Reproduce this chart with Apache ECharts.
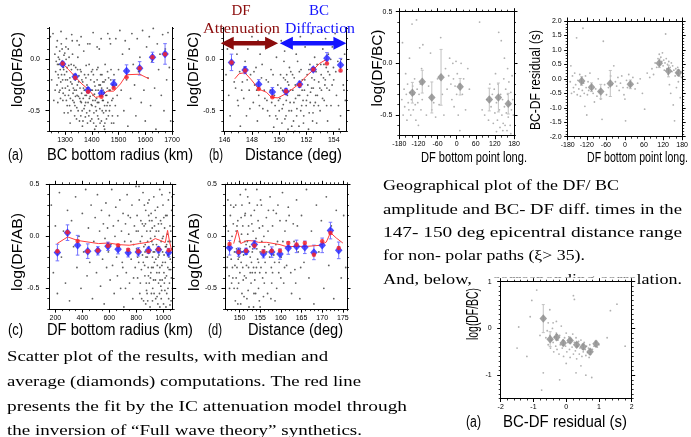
<!DOCTYPE html>
<html><head><meta charset="utf-8">
<script src="https://cdn.jsdelivr.net/npm/echarts@6/dist/echarts.min.js"></script>
<style>html,body{margin:0;padding:0;background:#fff}#c{width:691px;height:437px}</style>
</head><body><div id="c"></div><script>
// ---------------- DATA ----------------
// Panel (a): log(DF/BC) vs BC bottom radius (km)
const aCloud = [[1262,0.05],[1265,-0.12],[1268,0.12],[1270,-0.25],[1272,-0.05],[1275,0.02],[1276,-0.18],[1278,-0.32],[1280,0.08],[1282,-0.1],[1284,-0.22],[1286,0.15],[1288,-0.02],[1290,-0.28],[1292,-0.4],[1294,-0.08],[1296,0.04],[1298,-0.15],[1300,-0.35],[1302,-0.2],[1304,0.0],[1306,-0.12],[1308,-0.45],[1310,-0.26],[1312,0.1],[1314,-0.06],[1316,-0.3],[1318,-0.18],[1320,-0.38],[1322,-0.5],[1324,-0.1],[1326,-0.24],[1328,0.05],[1330,-0.33],[1332,-0.15],[1334,-0.42],[1336,-0.55],[1338,-0.2],[1340,-0.08],[1342,-0.3],[1344,-0.47],[1346,-0.25],[1348,0.02],[1350,-0.36],[1352,-0.16],[1354,-0.6],[1356,-0.28],[1358,-0.41],[1360,-0.12],[1362,-0.33],[1364,-0.5],[1366,-0.22],[1368,-0.38],[1370,0.08],[1372,-0.3],[1374,-0.45],[1376,-0.56],[1378,-0.18],[1380,-0.35],[1382,-0.25],[1384,-0.62],[1386,-0.42],[1388,-0.3],[1390,-0.05],[1392,-0.5],[1394,-0.36],[1396,-0.2],[1398,-0.44],[1400,-0.58],[1402,-0.3],[1404,-0.4],[1406,-0.15],[1408,-0.52],[1410,-0.34],[1412,-0.26],[1414,-0.46],[1416,-0.65],[1418,-0.38],[1420,-0.2],[1422,-0.55],[1424,-0.3],[1426,-0.42],[1428,0.1],[1430,-0.48],[1432,-0.25],[1434,-0.36],[1436,-0.6],[1438,-0.15],[1440,-0.4],[1442,-0.3],[1444,-0.52],[1446,-0.22],[1448,-0.45],[1450,-0.05],[1452,-0.35],[1455,-0.58],[1458,-0.28],[1460,-0.42],[1463,-0.18],[1466,-0.5],[1469,-0.3],[1472,-0.1],[1475,-0.4],[1478,-0.25],[1482,-0.62],[1485,-0.2],[1490,0.2],[1495,-0.35],
[1245,0.22],[1250,-0.2],[1255,0.25],[1258,-0.4],[1285,0.27],[1305,0.2],[1325,0.24],[1345,0.18],[1360,0.22],[1385,0.15],[1405,0.26],[1420,0.12],[1435,0.2],[1448,-0.68],[1460,0.25],[1470,0.15],[1500,-0.1],[1505,0.28],[1510,-0.3],[1515,0.05],[1520,-0.5],[1525,0.18],[1530,-0.2],[1535,-0.65],[1540,0.1],[1545,-0.38],[1550,0.25],[1555,-0.05],[1560,-0.25],[1565,-0.55],[1570,0.2],[1575,-0.12],[1580,0.02],[1585,-0.42],[1590,0.28],[1595,-0.3],[1600,-0.6],[1605,0.12],[1610,-0.18],[1615,0.22],[1620,-0.45],[1625,-0.02],[1630,0.3],[1635,-0.28],[1640,-0.68],[1645,0.15],[1650,-0.1],[1655,0.05],[1660,-0.35],[1665,0.24],[1670,-0.5],[1675,0.1],[1680,-0.2],[1685,0.26],[1690,-0.08],[1695,-0.6],
[1273,-0.42],[1281,-0.3],[1297,-0.52],[1303,0.12],[1319,-0.62],[1327,0.18],[1339,-0.36],[1347,-0.1],[1353,0.14],[1367,-0.6],[1379,-0.06],[1393,0.15],[1403,-0.1],[1411,-0.68],[1423,-0.08],[1437,-0.28],[1449,-0.62],[1457,-0.45],[1467,0.2],[1477,-0.55],
[1263,-0.3],[1267,-0.02],[1271,0.18],[1274,-0.15],[1277,-0.05],[1279,0.0],[1283,-0.38],[1287,-0.15],[1289,0.1],[1291,-0.2],[1293,-0.33],[1295,-0.1],[1299,0.06],[1301,-0.28],[1305,-0.4],[1307,-0.08],[1309,-0.2],[1311,-0.52],[1313,-0.35],[1315,0.02],[1317,-0.45],[1321,-0.22],[1323,-0.05],[1329,-0.4],[1331,-0.28],[1333,-0.06],[1335,-0.3],[1337,-0.45],[1341,-0.15],[1343,-0.58],[1345,-0.35],[1349,-0.5],[1351,-0.22],[1355,-0.38],[1357,-0.1],[1359,-0.55],[1361,-0.42],[1363,-0.2],[1365,-0.65],[1369,-0.28],[1371,-0.48],[1373,-0.15],[1375,-0.35],[1377,-0.42],[1381,-0.52],[1383,-0.32],[1387,-0.15],[1389,-0.55],[1391,-0.38],[1395,-0.6],[1397,-0.3],[1399,-0.12],[1401,-0.45],[1405,-0.35],[1407,-0.62],[1409,-0.22],[1413,-0.4],[1415,-0.3],[1417,-0.5],[1419,-0.1],[1421,-0.42],[1425,-0.58],[1427,-0.25],[1429,-0.35],[1431,-0.62],[1433,-0.15],[1439,-0.5],[1441,-0.22],[1443,-0.4],[1445,-0.65],[1447,-0.32],[1451,-0.2],[1453,-0.5],[1456,-0.35],[1459,-0.12],[1462,-0.55],[1465,-0.3],[1468,-0.45],[1471,-0.2],[1474,-0.62],[1479,-0.38],[1483,-0.15],[1488,-0.45],[1492,-0.25],[1497,-0.55]];
const aBinX = [1291,1338,1386,1436,1482,1530,1579,1627,1674];
const aMean = [-0.045,-0.169,-0.299,-0.331,-0.240,-0.114,-0.088,0.019,0.052];
const aErr = [0.02,0.025,0.025,0.03,0.04,0.06,0.065,0.05,0.1];
const aMedian = [-0.04,-0.18,-0.315,-0.364,-0.28,-0.175,-0.088,0.02,0.05];
const aFitX = [1291,1313,1338,1363,1386,1413,1436,1457,1482,1507,1530,1579,1614];
const aFitY = [-0.04,-0.1,-0.17,-0.24,-0.29,-0.37,-0.36,-0.31,-0.31,-0.24,-0.15,-0.145,-0.19];

// Panel (b): log(DF/BC) vs distance (deg)
const bCloud = [[146.1,-0.15],[146.2,0.1],[146.3,-0.35],[146.5,0.2],[146.6,-0.05],[146.8,-0.28],[146.9,0.05],[147.0,-0.45],[147.1,-0.12],[147.2,0.15],[147.3,-0.22],[147.4,-0.38],[147.5,-0.02],[147.6,-0.55],[147.7,0.1],[147.8,-0.3],[147.9,-0.15],[148.0,0.22],[148.1,-0.42],[148.2,-0.25],[148.3,-0.08],[148.4,-0.6],[148.5,-0.35],[148.6,0.05],[148.7,-0.18],[148.8,-0.48],[148.9,-0.3],[149.0,0.12],[149.1,-0.4],[149.2,-0.22],[149.3,-0.55],[149.4,-0.1],[149.5,-0.32],[149.6,-0.66],[149.7,-0.45],[149.8,0.02],[149.9,-0.25],[150.0,-0.5],[150.05,-0.38],[150.1,-0.15],[150.2,-0.62],[150.25,-0.3],[150.3,-0.44],[150.4,0.08],[150.45,-0.2],[150.5,-0.55],[150.6,-0.35],[150.65,-0.68],[150.7,-0.25],[150.8,-0.42],[150.85,-0.12],[150.9,-0.5],[151.0,-0.3],[151.05,-0.6],[151.1,-0.18],[151.2,-0.38],[151.25,0.05],[151.3,-0.48],[151.4,-0.25],[151.45,-0.65],[151.5,-0.35],[151.6,-0.1],[151.65,-0.45],[151.7,-0.2],[151.8,-0.55],[151.85,-0.3],[151.9,0.12],[152.0,-0.4],[152.05,-0.15],[152.1,-0.25],[152.2,-0.52],[152.25,-0.05],[152.3,-0.32],[152.4,-0.18],[152.45,-0.6],[152.5,-0.28],[152.6,0.02],[152.65,-0.42],[152.7,-0.12],[152.8,-0.35],[152.85,0.15],[152.9,-0.22],[153.0,-0.5],[153.05,-0.05],[153.1,-0.3],[153.2,0.1],[153.25,-0.18],[153.3,-0.4],[153.4,0.2],[153.45,-0.08],[153.5,-0.28],[153.6,0.05],[153.7,-0.15],[153.8,-0.45],[153.9,0.12],[154.0,-0.2],[154.1,0.25],[154.2,-0.35],[154.3,-0.02],[154.5,-0.55],[154.6,0.15],[154.7,-0.25],[154.8,0.05],
[149.25,0.25],[150.15,0.18],[150.75,-0.08],[151.15,-0.7],[151.55,0.22],[152.15,-0.68],[152.35,0.25],[152.75,-0.62],[153.15,0.28],[153.55,-0.6],[150.35,-0.02],[151.35,-0.02],[149.85,-0.58],[150.55,-0.15],[151.75,-0.4],[152.55,-0.45],[153.35,-0.25],[148.45,0.18],[147.15,-0.65],[146.4,-0.55],[154.4,-0.68],[154.85,-0.4],
[149.05,-0.2],[149.15,-0.5],[149.35,-0.3],[149.45,-0.42],[149.55,-0.15],[149.65,-0.35],[149.75,-0.55],[149.95,-0.4],[150.12,-0.28],[150.22,-0.48],[150.32,-0.18],[150.42,-0.58],[150.52,-0.4],[150.62,-0.22],[150.72,-0.5],[150.82,-0.3],[150.92,-0.65],[150.98,-0.15],[151.08,-0.42],[151.18,-0.25],[151.28,-0.55],[151.38,-0.35],[151.48,-0.12],[151.58,-0.5],[151.68,-0.3],[151.78,-0.62],[151.88,-0.2],[151.98,-0.45],[152.08,-0.35],[152.18,-0.1],[152.28,-0.42],[152.38,-0.28],[152.48,-0.52],[152.58,-0.2],[152.68,-0.35],[152.78,-0.05],[152.88,-0.45],[152.98,-0.28],[153.08,-0.15],[153.18,-0.38],[153.28,-0.05],[153.38,-0.2],[153.48,-0.45],[153.58,-0.12],[153.68,-0.3],[153.78,0.0],[153.88,-0.25],[153.98,-0.08],[148.15,-0.12],[148.35,-0.3],[148.55,-0.45],[148.75,-0.05],[148.95,-0.38],[147.25,-0.3],[147.45,-0.08],[147.65,-0.2],[147.85,-0.48],[146.7,-0.22],[146.95,-0.4],[154.15,-0.12],[154.35,-0.45],[154.55,0.0],[154.75,-0.3]];
const bBinX = [146.5,147.5,148.5,149.5,150.5,151.5,152.5,153.5,154.5];
const bMean = [-0.03,-0.105,-0.243,-0.319,-0.313,-0.243,-0.099,0.01,-0.056];
const bErr = [0.08,0.035,0.045,0.045,0.03,0.03,0.02,0.055,0.065];
const bMedian = [-0.03,-0.11,-0.29,-0.37,-0.31,-0.25,-0.1,-0.04,-0.11];
const bFitX = [146.74,147.06,147.48,147.96,148.5,149.06,149.43,149.91,150.48,150.96,151.45,151.99,152.48,152.96,153.48];
const bFitY = [-0.19,-0.14,-0.13,-0.2,-0.29,-0.32,-0.37,-0.375,-0.335,-0.29,-0.24,-0.165,-0.105,-0.04,0];
const bArrowAtt = [145.71,149.92];   // DF attenuation range (deg)
const bArrowDif = [150.05,154.93];   // BC diffraction range (deg)
const bArrowY = 0.156;

// Panel (c): log(DF/AB) vs DF bottom radius (km)
const cCloud = [[170,0.3],[185,-0.35],[200,0.1],[215,-0.55],[230,0.42],[245,-0.2],[260,0.05],[275,-0.45],[290,0.25],[305,-0.62],[320,0.15],[335,-0.1],[350,0.38],[360,-0.3],[375,0.0],[390,-0.5],[400,0.22],[410,-0.15],[425,0.45],[435,-0.38],[445,0.08],[455,-0.25],[465,0.3],[475,-0.6],[485,-0.05],[495,0.18],
[505,-0.35],[512,0.4],[520,-0.12],[528,0.05],[535,-0.48],[542,0.25],[550,-0.22],[556,0.12],[562,-0.65],[568,-0.02],[575,0.32],[580,-0.3],[587,0.08],[593,-0.15],[600,0.2],[606,-0.42],[612,-0.08],[618,0.45],[624,-0.28],[630,0.1],[636,-0.55],[642,0.0],[648,0.28],[654,-0.2],[660,-0.38],[666,0.15],[672,-0.1],[678,0.35],[684,-0.5],[690,0.05],[696,-0.25],[702,0.22],[708,-0.68],[714,-0.05],[720,0.12],[726,-0.35],[732,0.4],[738,-0.15],[744,0.02],[750,-0.45],[756,0.18],[762,-0.22],[768,0.3],[774,-0.6],[780,-0.08],[786,0.1],[792,-0.3],[798,0.48],
[802,-0.12],[806,0.2],[810,-0.4],[814,0.05],[818,-0.25],[822,0.35],[826,-0.55],[830,-0.05],[834,0.15],[838,-0.32],[842,0.0],[846,-0.18],[850,0.42],[854,-0.62],[858,0.1],[862,-0.28],[866,-0.08],[870,0.25],[874,-0.45],[878,0.05],[882,-0.2],[886,0.32],[890,-0.38],[894,-0.1],[898,0.15],[902,-0.68],[906,-0.02],[910,0.22],[914,-0.3],[918,0.08],[922,-0.5],[926,-0.15],[930,0.38],[934,-0.25],[938,0.0],[942,-0.42],[946,0.18],[950,-0.08],[954,-0.58],[958,0.28],[962,-0.2],[966,0.05],[970,-0.35],[974,0.45],[978,-0.12],[982,-0.48],[986,0.12],[990,-0.28],[994,-0.02],[998,0.3],[1002,-0.65],[1006,-0.18],[1010,0.08],[1014,-0.4],[1018,0.2],[1022,-0.1],[1026,-0.55],[1030,0.02],[1034,-0.3],[1038,0.35],[1042,-0.2],[1046,-0.45],[1050,0.1],[1054,-0.05],[1058,-0.62],[1062,0.25],[1066,-0.25],
[905,-0.4],[915,-0.05],[925,-0.3],[935,0.1],[945,-0.22],[955,-0.12],[965,-0.45],[975,-0.3],[985,-0.6],[995,-0.15],[1005,-0.35],[1015,-0.25],[1025,-0.08],[1035,-0.5],[1045,-0.15],[1055,-0.32],[1012,-0.52],[992,-0.42],[972,-0.55],[952,-0.35],[932,-0.55],[1040,-0.6],[1020,-0.68],[1000,0.0],[980,0.15],[960,-0.65],[940,0.25],[920,-0.62],[880,-0.55],[860,0.3],[840,-0.6],[820,0.48],[870,-0.65],[1048,0.42],[1028,0.2],
[852,-0.25],[856,-0.1],[864,-0.38],[868,0.12],[872,-0.2],[876,-0.52],[884,-0.05],[888,-0.3],[892,0.2],[896,-0.45],[900,-0.15],[904,0.05],[908,-0.35],[912,-0.55],[916,0.15],[920,-0.2],[924,-0.08],[928,-0.42],[936,-0.15],[944,-0.6],[948,0.05],[956,-0.28],[964,0.12],[968,-0.18],[976,-0.42],[984,-0.05],[988,-0.52],[996,-0.25],[1004,0.18],[1008,-0.45],[1016,-0.1],[1024,-0.38],[1032,-0.18],[1036,-0.05],[1044,-0.32],[1052,-0.22],[1056,0.05],[1060,-0.4],[1064,-0.12],[1068,-0.5],[700,-0.3],[720,-0.5],[740,0.2],[760,-0.05],[780,-0.4],[800,0.05],[810,-0.2],[830,-0.45],[845,0.12],[865,-0.15],[885,-0.62],[895,0.35],[975,-0.68],[1065,0.38],[1050,-0.66],[990,0.4]];
const cBinX = [215,290,365,440,515,590,665,740,815,890,965,1040];
const cMean = [-0.156,0.035,-0.086,-0.143,-0.14,-0.096,-0.124,-0.159,-0.15,-0.134,-0.13,-0.156];
const cErr = [0.08,0.075,0.095,0.07,0.04,0.04,0.045,0.04,0.04,0.03,0.03,0.04];
const cMedian = [-0.143,0.04,-0.045,-0.143,-0.137,-0.092,-0.086,-0.13,-0.143,-0.143,-0.124,-0.134];
const cFitX = [213,291,365,442,521,595,669,748,822,899,941,978,1015,1032,1047,1064];
const cFitY = [-0.07,-0.006,-0.04,-0.055,-0.07,-0.064,-0.08,-0.086,-0.07,-0.055,-0.022,-0.04,-0.06,0.057,-0.055,-0.143];

// Panel (d): log(DF/AB) vs distance (deg)
const dCloud = [[146.8,0.1],[147.0,-0.3],[147.2,0.35],[147.4,-0.1],[147.6,-0.5],[147.8,0.2],[148.0,-0.22],[148.2,0.0],[148.4,-0.4],[148.6,0.28],[148.8,-0.15],[149.0,-0.62],[149.2,0.05],[149.4,-0.3],[149.6,0.15],[149.8,-0.45],[150.0,-0.05],[150.2,0.4],[150.4,-0.25],[150.6,-0.55],[150.8,0.1],[151.0,-0.18],[151.2,-0.38],[151.4,0.22],[151.6,-0.08],[151.8,-0.6],[152.0,0.02],[152.2,-0.3],[152.4,0.32],[152.6,-0.2],[152.8,-0.45],[153.0,0.12],[153.2,-0.12],[153.4,-0.68],[153.6,0.25],[153.8,-0.35],[154.0,-0.02],[154.2,0.45],[154.4,-0.22],[154.6,-0.5],[154.8,0.08],[155.0,-0.15],[155.3,0.3],[155.6,-0.4],[155.9,0.0],[156.2,-0.25],[156.5,0.18],[156.8,-0.55],[157.1,-0.08],[157.4,0.38],[157.7,-0.3],[158.0,0.1],[158.3,-0.18],[158.6,-0.62],[158.9,0.22],[159.2,-0.05],[159.5,-0.35],[159.8,0.15],[160.1,-0.2],[160.4,0.42],[160.7,-0.45],[161.0,0.05],[161.4,-0.28],[161.8,0.28],[162.2,-0.1],[162.6,-0.55],[163.0,0.12],[163.4,-0.32],[163.8,0.35],[164.2,-0.15],[164.6,-0.6],[165.0,0.2],[165.6,-0.25],[166.2,0.45],[166.8,-0.4],[167.4,0.05],[168.0,-0.65],[168.6,0.3],[169.2,-0.15],[169.8,0.15],[170.4,-0.5],[171.0,0.38],[171.6,-0.28],[172.2,0.1],[172.8,-0.6],[173.4,0.25],[174.0,-0.1],[174.6,-0.4],[175.2,0.2],[175.7,-0.3],
[148.1,-0.45],[148.5,0.12],[148.9,-0.28],[149.3,-0.12],[149.7,-0.22],[150.1,-0.35],[150.5,0.02],[150.9,-0.42],[151.3,-0.05],[151.7,-0.28],[152.1,-0.52],[152.5,-0.1],[152.9,-0.25],[153.3,0.05],[153.7,-0.42],[154.1,-0.3],[154.5,0.15],[154.9,-0.35],[155.4,-0.05],[155.8,-0.58],[149.1,0.3],[150.3,-0.65],[151.5,0.45],[152.3,-0.68],[153.5,-0.55],[154.3,0.3],[156.0,-0.45],[157.0,0.25],[158.0,-0.35],[159.0,-0.5],[149.5,-0.5],[150.7,-0.15],[151.9,-0.15],[153.1,-0.35],[155.1,0.35],[156.6,-0.15],[157.8,-0.45],[160.5,-0.05],[162.0,0.2],[163.6,-0.45],
[147.1,-0.2],[147.3,0.05],[147.5,-0.38],[147.7,-0.12],[147.9,0.3],[148.3,-0.3],[148.7,-0.5],[149.2,-0.4],[149.4,0.1],[149.9,-0.2],[150.2,-0.12],[150.4,0.18],[150.8,-0.3],[151.1,-0.58],[151.3,0.2],[151.6,-0.4],[151.9,-0.05],[152.2,0.1],[152.6,-0.35],[152.8,0.2],[153.1,-0.15],[153.4,-0.3],[153.6,-0.05],[153.9,-0.55],[154.2,-0.12],[154.6,-0.25],[154.8,-0.62],[155.2,-0.3],[155.6,0.1],[156.1,-0.1],[156.4,-0.35],[156.9,0.05],[157.3,-0.2],[157.6,-0.6],[158.2,0.25],[158.5,-0.25],[158.8,-0.08],[159.3,0.3],[159.6,-0.25],[160.0,-0.4],[160.9,-0.3],[161.3,0.15],[162.4,-0.35],[163.2,-0.05],[164.0,0.1],[164.8,-0.3],[149.6,-0.65],[152.0,0.38],[155.0,-0.68],[150.6,0.3]];
const dBinX = [147.6,149.8,151.6,153.6,155.8,157.8,159.8,161.8,163.8,165.8,168,170,172,174];
const dMean = [-0.11,-0.152,-0.145,-0.08,-0.168,-0.152,-0.171,-0.113,-0.097,-0.106,-0.155,-0.087,0.055,-0.135];
const dErr = [0.07,0.04,0.03,0.04,0.04,0.05,0.05,0.06,0.06,0.06,0.07,0.07,0.08,0.08];
const dMedian = [-0.074,-0.152,-0.139,-0.09,-0.145,-0.139,-0.139,-0.065,-0.08,-0.065,-0.177,-0.048,0.032,-0.113];
const dFitX = [148.6,149.5,150.3,151.8,153.4,154.6,156.6,159.8,161.4,163.8,166.2,169.4,171,172,173.4,175];
const dFitY = [-0.07,0.06,-0.07,-0.04,-0.045,-0.058,-0.058,-0.08,-0.1,-0.097,-0.097,-0.087,-0.055,0.035,-0.016,-0.065];

// Geographical panel 1: log(DF/BC) vs DF bottom point longitude
const g1Cloud = [[-172,-0.35],[-170,0.2],[-168,-0.5],[-165,-0.25],[-163,-0.42],[-160,-0.1],[-158,-0.3],[-156,-0.55],[-154,-0.2],[-152,-0.38],[-150,-0.45],[-148,0.05],[-146,-0.28],[-144,-0.5],[-142,-0.35],[-140,0.38],[-138,-0.22],[-136,-0.45],[-134,-0.3],[-132,-0.15],[-130,-0.4],[-128,-0.55],[-126,0.42],[-124,-0.25],[-122,-0.38],[-120,-0.6],[-118,-0.3],[-116,0.15],[-114,-0.2],[-112,-0.45],[-110,-0.05],[-108,-0.35],[-106,0.18],
[-95,-0.5],[-88,-0.22],[-82,0.1],[-78,-0.45],[-72,-0.38],[-66,-0.52],[-60,-0.15],[-55,-0.4],[-50,0.25],[-45,-0.3],[-40,-0.5],[-35,-0.05],[-30,-0.25],[-25,-0.12],[-22,0.05],[-18,-0.2],[-15,-0.35],[-12,0.0],[-10,-0.15],[-8,-0.42],[-5,-0.22],[-2,0.02],[0,-0.3],[2,-0.1],[5,-0.5],[8,-0.2],[10,-0.65],[14,0.0],[18,-0.3],[22,-0.15],[28,-0.45],[35,-0.05],[40,-0.25],
[72,0.4],[80,-0.45],[88,-0.5],[95,-0.35],[100,-0.55],[104,-0.2],[108,-0.42],[112,-0.3],[115,-0.58],[118,-0.25],[120,-0.48],[122,-0.1],[125,-0.38],[128,-0.55],[130,-0.2],[132,0.3],[134,-0.45],[136,-0.62],[138,-0.3],[140,0.22],[142,-0.5],[144,-0.35],[146,-0.58],[148,-0.15],[150,-0.42],[152,-0.6],[154,-0.25],[156,-0.48],[158,-0.65],[160,-0.3],[162,-0.52],[164,-0.18],[166,-0.4],[168,-0.6],[170,-0.28],[172,-0.45],[174,-0.12],[176,-0.35],[178,-0.5],[160,-0.05],[150,0.05],[125,-0.66],[170,-0.68],[145,-0.65]];
const g1X = [-139,-108,-78,-49,11,102.5,131,162];
const g1Y = [-0.284,-0.177,-0.33,-0.135,-0.226,-0.35,-0.33,-0.39];
const g1Err = [0.1,0.11,0.15,0.27,0.08,0.11,0.14,0.1];

// Geographical panel 2: BC-DF residual (s) vs DF bottom point longitude
const g2Cloud = [[-172,-0.1],[-170,0.45],[-168,-0.5],[-165,0.1],[-162,-0.3],[-160,-0.45],[-158,0.2],[-155,-0.2],[-152,1.42],[-150,-0.55],[-148,-0.05],[-145,-0.35],[-142,0.15],[-140,-0.6],[-138,-0.2],[-136,0.05],[-134,-0.4],[-132,1.75],[-130,-0.15],[-128,-0.5],[-126,-0.95],[-124,0.1],[-122,-0.3],[-120,-1.25],[-118,-0.55],[-116,-0.1],[-114,-0.4],[-110,0.2],[-106,-0.25],[-100,-0.5],[-96,-0.8],[-92,-0.35],[-88,-0.6],[-84,0.0],[-80,-0.45],[-76,-0.7],[-72,-1.4],[-68,1.3],[-64,-0.2],[-58,-0.55],[-52,-0.3],[-45,0.1],[-40,-0.2],[-35,0.45],[-30,-0.1],[-26,-0.25],[-22,0.05],[-18,-0.4],[-14,-0.15],[-10,0.1],[-6,-0.3],[-3,-0.55],[0,-0.7],[2,-1.45],[5,-0.05],[8,-0.3],[12,0.15],[18,-0.2],[25,0.05],[32,-0.35],[40,-0.15],[48,0.0],[55,-0.5],[62,-1.05],[70,0.2],[78,0.05],[85,0.35],[90,0.15],[95,0.55],[100,0.4],[104,0.7],[108,0.85],[110,0.5],[113,0.75],[116,0.6],[118,0.9],[120,0.45],[122,0.65],[124,0.3],[126,0.55],[128,1.55],[130,0.7],[132,0.35],[134,0.5],[136,0.15],[138,0.6],[140,-0.2],[142,0.4],[144,-0.5],[146,0.55],[148,0.25],[150,0.45],[152,-0.9],[154,0.3],[156,-1.45],[158,0.1],[160,0.35],[162,-0.3],[164,0.2],[166,0.4],[168,-0.1],[170,0.3],[172,0.1],[174,-0.65],[176,0.25],[178,0.05]];
const g2X = [-136,-105,-76,-46,17,108,137,168];
const g2Y = [-0.075,-0.29,-0.44,-0.16,-0.19,0.54,0.27,0.21];
const g2Err = [0.15,0.15,0.25,0.45,0.15,0.15,0.2,0.1];

// Bottom panel: log(DF/BC) vs BC-DF residual (s)
const hCloud = [[-0.62,-0.2],[-0.58,-0.05],[-0.55,-0.35],[-0.5,-0.15],[-0.48,-0.42],[-0.45,-0.25],[-0.42,0.0],[-0.4,-0.3],[-0.38,-0.5],[-0.35,-0.18],[-0.32,-0.38],[-0.3,-0.1],[-0.28,-0.45],[-0.25,-0.25],[-0.22,-0.55],[-0.2,-0.15],[-0.18,-0.35],[-0.15,0.05],[-0.12,-0.42],[-0.1,-0.25],[-0.08,-0.6],[-0.05,-0.2],[-0.02,-0.38],[0.0,-0.1],[0.02,-0.5],[0.05,-0.3],[0.08,-0.18],[0.1,-0.45],[0.12,-0.62],[0.15,-0.25],[0.18,-0.4],[0.2,-0.12],[0.22,-0.55],[0.25,-0.3],[0.28,-0.48],[0.3,-0.2],[0.32,-0.65],[0.35,-0.38],[0.38,-0.28],[0.4,-0.55],[0.42,-0.42],[0.45,-0.25],[0.48,-0.6],[0.5,-0.35],[0.52,-0.5],[0.55,-0.3],[0.58,-0.45],[0.6,-0.58],[0.62,-0.38],[0.65,-0.52],[0.68,-0.42],[0.7,-0.62],[0.72,-0.35],[0.75,-0.5],[0.8,-0.45],[0.85,-0.38],[0.9,-0.3],[0.95,-0.4],[1.0,-0.35],
[-0.9,0.82],[-1.05,0.6],[-1.1,0.25],[-1.45,0.03],[-1.5,-0.42],[-1.2,-0.6],[-0.8,-0.15],[-0.7,-0.95],[-0.75,-1.32],[-0.5,0.4],[-0.4,0.12],[-0.2,-1.1],[0.22,0.7],[0.25,0.62],[0.0,-0.75],[0.3,-0.95],[0.45,-0.8],[0.6,-1.0],[0.78,-1.05],[1.35,0.38],[1.55,0.52],[1.25,-0.2],[1.8,-0.38],[-0.3,0.15],[-0.55,0.12]];
const hX = [-0.70,-0.49,-0.29,-0.09,0.12,0.32,0.52,0.73,0.91];
const hY = [0.21,-0.23,-0.19,-0.31,-0.26,-0.35,-0.39,-0.5,-0.33];
const hErr = [0.3,0.16,0.06,0.05,0.05,0.05,0.06,0.06,0.06];

// Tick labels
const aXTicks = [1300,1400,1500,1600,1700];
const bXTicks = [146,148,150,152,154];
const cXTicks = [200,400,600,800,1000];
const dXTicks = [150,155,160,165,170,175];
const abYTicks = [-0.5,0];
const cdYTicks = [-0.5,0,0.5];
const lonTicks = [-180,-120,-60,0,60,120,180];
const g2YTicks = [-2,-1.5,-1,-0.5,0,0.5,1,1.5,2];
const hXTicks = [-2,-1,0,1,2];
const hYTicks = [-1,0,1];

// Texts
const rightText = ['Geographical plot of the DF/ BC','amplitude and BC- DF diff. times in the','147- 150 deg epicentral distance range','for non- polar paths (\u03be> 35).'];
const rightLast = ['And, below,', 'corresponding correlation.'];
const leftText = ['Scatter plot of the results, with median and','average (diamonds) computations. The red line','presents the fit by the IC attenuation model through','the inversion of \u201cFull wave theory\u201d synthetics.'];

// ---------------- BUILD ----------------
const SANS = '"Liberation Sans", Arial, Helvetica, sans-serif';
const SERIF = '"Liberation Serif", "Times New Roman", serif';
const BLUE = '#1f1fff', BLUEBAR = '#7373ff', RED = '#ff2020', FIT = '#ff3c3c';
const CLOUD = 'rgba(20,20,20,0.85)', GREY = '#8a8a8a', GREYPT = '#9c9c9c', GREYBAR = '#c2c2c2';

function ticks(a, b, s) { const r = []; for (let v = a; v <= b + 1e-9; v += s) r.push(Math.round(v * 1e4) / 1e4); return r; }
const f1 = v => (Math.abs(v) < 1e-9 ? 0 : v).toFixed(1);
const f0 = v => String(Math.round(v));

const P = [
  {l:49, t:27.4, w:123, h:103.9, x:[1240,1700], y:[-0.7,0.31], full:false, xl:aXTicks, xm:ticks(1250,1700,25), yl:abYTicks, ym:ticks(-0.7,0.3,0.1), xf:f0, yf:f1, ym_:9},
  {l:223.3, t:27.4, w:122.7, h:103.9, x:[145.9,154.9], y:[-0.7,0.31], full:false, xl:bXTicks, xm:ticks(146,154.5,0.5), yl:abYTicks, ym:ticks(-0.7,0.3,0.1), xf:f0, yf:f1, ym_:8},
  {l:49.3, t:184.3, w:123.4, h:124.8, x:[155,1070], y:[-0.7,0.5], full:true, xl:cXTicks, xm:ticks(200,1050,50), yl:cdYTicks, ym:ticks(-0.7,0.5,0.1), xf:f0, yf:f1, ym_:10},
  {l:225, t:184.3, w:122, h:124.8, x:[146.5,176], y:[-0.7,0.5], full:true, xl:dXTicks, xm:ticks(147,176,1), yl:cdYTicks, ym:ticks(-0.7,0.5,0.1), xf:f0, yf:f1, ym_:8},
  {l:399.3, t:11.7, w:114.7, h:124, x:[-180,180], y:[-0.7,0.5], full:true, xl:lonTicks, xm:ticks(-180,180,20), yl:cdYTicks, ym:ticks(-0.7,0.5,0.1), xf:f0, yf:f1, ym_:7},
  {l:567.7, t:21, w:115.3, h:115.7, x:[-180,180], y:[-2,2], full:true, xl:lonTicks, xm:ticks(-180,180,20), yl:g2YTicks, ym:ticks(-2,2,0.1), xf:f0, yf:f1, ym_:6},
  {l:500.7, t:281.7, w:131, h:116.8, x:[-2,2], y:[-1.5,1], full:true, xl:hXTicks, xm:ticks(-2,2,0.2), yl:hYTicks, ym:ticks(-1.5,1,0.1), xf:f0, yf:f0, ym_:9, z:12}
];

const option = {animation:false, backgroundColor:'#fff', grid:[], xAxis:[], yAxis:[], series:[], graphic:{elements:[]}};

function axisPair(arr, gi, pos, range, major, minor, labels, fmt, margin, z) {
  const base = {gridIndex:gi, type:'value', position:pos, min:range[0], max:range[1], z:z || 3, silent:true, splitLine:{show:false}, offset:0};
  arr.push(Object.assign({}, base, {
    axisLine:{show:true, onZero:false, lineStyle:{color:'#000', width:1}},
    axisTick:{show:true, inside:false, length:3.5, customValues:major, lineStyle:{color:'#000', width:1}},
    axisLabel:{show:labels, customValues:major, formatter:fmt, fontSize:7, fontFamily:SANS, color:'#000', margin:margin}
  }));
  arr.push(Object.assign({}, base, {
    axisLine:{show:false, onZero:false},
    axisTick:{show:true, inside:false, length:2, customValues:minor, lineStyle:{color:'#000', width:0.8}},
    axisLabel:{show:false}
  }));
}

P.forEach((p, gi) => {
  option.grid.push({left:p.l, top:p.t, width:p.w, height:p.h, show:false});
  p.xi = option.xAxis.length;
  axisPair(option.xAxis, gi, 'bottom', p.x, p.xl, p.xm, true, p.xf, 5, p.z);
  if (p.full) axisPair(option.xAxis, gi, 'top', p.x, p.xl, p.xm, false, null, 0, p.z);
  p.yi = option.yAxis.length;
  axisPair(option.yAxis, gi, 'left', p.y, p.yl, p.ym, true, p.yf, p.ym_, p.z);
  axisPair(option.yAxis, gi, 'right', p.y, p.yl, p.ym, false, null, 0, p.z);
});

function errRender(color, cap) {
  return function (params, api) {
    const x = api.value(0), lo = api.value(1), hi = api.value(2);
    const a = api.coord([x, lo]), b = api.coord([x, hi]);
    const st = {stroke:color, lineWidth:1};
    return {type:'group', children:[
      {type:'line', shape:{x1:a[0], y1:a[1], x2:b[0], y2:b[1]}, style:st},
      {type:'line', shape:{x1:a[0]-cap, y1:a[1], x2:a[0]+cap, y2:a[1]}, style:st},
      {type:'line', shape:{x1:b[0]-cap, y1:b[1], x2:b[0]+cap, y2:b[1]}, style:st}
    ]};
  };
}
const zip2 = (xs, ys) => xs.map((x, i) => [x, ys[i]]);
const errData = (xs, ys, es) => xs.map((x, i) => [x, ys[i] - es[i], ys[i] + es[i]]);

function addStats(p, cloud, xs, mean, err, median, fitX, fitY) {
  const ax = {xAxisIndex:p.xi, yAxisIndex:p.yi};
  option.series.push(Object.assign({type:'scatter', data:cloud, symbol:'circle', symbolSize:1.8, itemStyle:{color:CLOUD}, silent:true, z:2}, ax));
  option.series.push(Object.assign({type:'custom', data:errData(xs, mean, err), renderItem:errRender(BLUEBAR, 1.8), encode:{x:0, y:[1,2]}, silent:true, z:3}, ax));
  option.series.push(Object.assign({type:'line', data:zip2(fitX, fitY), showSymbol:false, symbol:'none', lineStyle:{color:FIT, width:1}, silent:true, z:4}, ax));
  option.series.push(Object.assign({type:'scatter', data:zip2(xs, mean), symbol:'diamond', symbolSize:[7.5,8.5], itemStyle:{color:BLUE}, silent:true, z:5}, ax));
  option.series.push(Object.assign({type:'scatter', data:zip2(xs, median), symbol:'circle', symbolSize:4.5, itemStyle:{color:RED}, silent:true, z:6}, ax));
}
function addGrey(p, cloud, xs, ys, es, zb) {
  const ax = {xAxisIndex:p.xi, yAxisIndex:p.yi};
  zb = zb || 0;
  option.series.push(Object.assign({type:'scatter', data:cloud, symbol:'circle', symbolSize:1.8, itemStyle:{color:GREYPT}, silent:true, z:2 + zb}, ax));
  option.series.push(Object.assign({type:'custom', data:errData(xs, ys, es), renderItem:errRender(GREYBAR, 1.5), encode:{x:0, y:[1,2]}, silent:true, z:3 + zb}, ax));
  option.series.push(Object.assign({type:'scatter', data:zip2(xs, ys), symbol:'diamond', symbolSize:[7.5,8.5], itemStyle:{color:GREY}, silent:true, z:5 + zb}, ax));
}

addStats(P[0], aCloud, aBinX, aMean, aErr, aMedian, aFitX, aFitY);
addStats(P[1], bCloud, bBinX, bMean, bErr, bMedian, bFitX, bFitY);
addStats(P[2], cCloud, cBinX, cMean, cErr, cMedian, cFitX, cFitY);
addStats(P[3], dCloud, dBinX, dMean, dErr, dMedian, dFitX, dFitY);
addGrey(P[4], g1Cloud, g1X, g1Y, g1Err);
addGrey(P[5], g2Cloud, g2X, g2Y, g2Err);
addGrey(P[6], hCloud, hX, hY, hErr, 10);

// Double arrows over panel (b), placed through the panel's own scales
function arrowRender(color) {
  return function (params, api) {
    const y = api.value(2);
    const a = api.coord([api.value(0), y]), b = api.coord([api.value(1), y]);
    const H = 13, hh = 6.5, sh = 2.3, x0 = a[0], x1 = b[0], yc = a[1];
    return {type:'polygon', shape:{points:[[x0,yc],[x0+H,yc-hh],[x0+H,yc-sh],[x1-H,yc-sh],[x1-H,yc-hh],[x1,yc],[x1-H,yc+hh],[x1-H,yc+sh],[x0+H,yc+sh],[x0+H,yc+hh]]}, style:{fill:color}};
  };
}
option.series.push({type:'custom', xAxisIndex:P[1].xi, yAxisIndex:P[1].yi, clip:false, silent:true, z:7, renderItem:arrowRender('#8b0c0c'), data:[[bArrowAtt[0], bArrowAtt[1], bArrowY]]});
option.series.push({type:'custom', xAxisIndex:P[1].xi, yAxisIndex:P[1].yi, clip:false, silent:true, z:7, renderItem:arrowRender('#1414ff'), data:[[bArrowDif[0], bArrowDif[1], bArrowY]]});

// ---------------- TEXT ----------------
const mctx = document.createElement('canvas').getContext('2d');
function T(text, x, y, o) {
  const font = (o.size) + 'px ' + (o.fam || SANS);
  mctx.font = font;
  const w = mctx.measureText(o.ref || text).width;
  const sx = o.sx || (o.target ? o.target / w : 1);
  return {type:'text', x:x, y:y, rotation:o.rot || 0, scaleX:sx, scaleY:o.sy || 1, z:o.z == null ? 5 : o.z, silent:true,
    style:{text:text, font:font, fill:o.fill || '#000', align:o.align || 'left', textAlign:o.align || 'left', verticalAlign:'middle', textVerticalAlign:'middle'}};
}
const G = option.graphic.elements;
const R = Math.PI / 2;
// x titles
G.push(T('(a)', 8, 156, {size:16, target:15}));
G.push(T('BC bottom radius (km)', 47, 156, {size:16, target:146}));
G.push(T('(b)', 209, 156, {size:16, target:14}));
G.push(T('Distance (deg)', 245, 156, {size:16, target:97}));
G.push(T('(c)', 8, 331, {size:16, target:15}));
G.push(T('DF bottom radius (km)', 47, 331, {size:16, target:146}));
G.push(T('(d)', 208, 331, {size:16, target:14}));
G.push(T('Distance (deg)', 248, 331, {size:16, target:95}));
G.push(T('DF bottom point long.', 421, 158, {size:15, target:106}));
G.push(T('DF bottom point long.', 587, 158, {size:15, target:101}));
G.push(T('(a)', 466, 423, {size:16, target:15}));
G.push(T('BC-DF residual (s)', 503, 423, {size:16, target:124}));
// y titles (rotated)
G.push(T('log(DF/BC)', 18.5, 69.5, {size:14, target:75, rot:R, align:'center'}));
G.push(T('log(DF/BC)', 194, 69.5, {size:14, target:75, rot:R, align:'center'}));
G.push(T('log(DF/AB)', 18.5, 252, {size:14, target:78, rot:R, align:'center'}));
G.push(T('log(DF/AB)', 195, 252, {size:14, target:78, rot:R, align:'center'}));
G.push(T('log(DF/BC)', 378.5, 68, {size:14, target:77, rot:R, align:'center'}));
G.push(T('BC-DF residual (s)', 536.5, 80, {size:14, target:100, rot:R, align:'center'}));
G.push(T('log(DF/BC)', 474, 314, {size:16, target:52, rot:R, align:'center', z:13}));
// arrow captions
G.push(T('DF', 241, 11, {size:15, fam:SERIF, fill:'#8b0c0c', align:'center'}));
G.push(T('Attenuation', 241.5, 29, {size:15, fam:SERIF, fill:'#8b0c0c', align:'center', target:77}));
G.push(T('BC', 319, 11, {size:15, fam:SERIF, fill:'#1414ff', align:'center'}));
G.push(T('Diffraction', 320, 29, {size:15, fam:SERIF, fill:'#1414ff', align:'center', target:70}));
// right text block
const rY = [186, 210.5, 233.5, 256], rW = [236, 299, 299, 202];
rightText.forEach((s, i) => G.push(T(s, 383, rY[i], {size:15, fam:SERIF, target:rW[i], z:0})));
G.push(T(rightLast[0], 383, 280, {size:15, fam:SERIF, sx:1.22, z:0}));
G.push(T(rightLast[1], 682, 280, {size:15, fam:SERIF, sx:1.2, align:'right', z:0}));
// white backing of the lower-right panel image hides most of the last line
G.push({type:'rect', shape:{x:490, y:277.5, width:147, height:20}, style:{fill:'#fff'}, z:10, silent:true});
// left text block
const lY = [357, 382, 407, 431], lW = [321, 354, 400, 355];
leftText.forEach((s, i) => G.push(T(s, 7, lY[i], {size:15, fam:SERIF, target:lW[i], z:0})));

const chart = echarts.init(document.getElementById('c'), null, {renderer:'canvas'});
chart.setOption(option);
</script></body></html>
